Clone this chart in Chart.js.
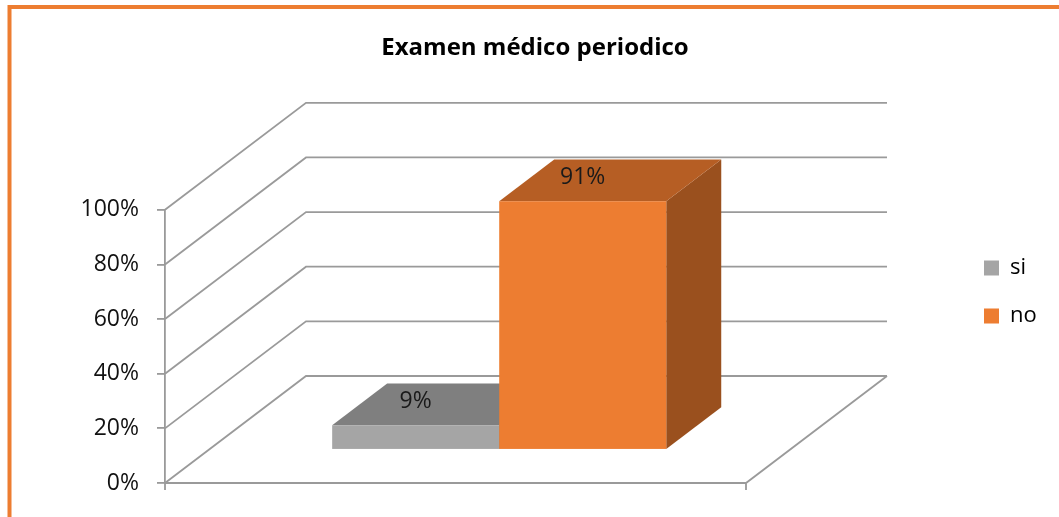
<!DOCTYPE html>
<html>
<head>
<meta charset="utf-8">
<script src="https://cdn.jsdelivr.net/npm/chart.js@4.4.1/dist/chart.umd.min.js"></script>
<style>
  html, body { margin: 0; padding: 0; background: #fff; }
</style>
</head>
<body>
<canvas id="examChart" width="1059" height="517"></canvas>
<script>
// datos del grafico
const categories = ['Examen médico periodico'];
const seriesNames = ['si', 'no'];
const seriesValues = [9, 91];
const tickValues = [0, 20, 40, 60, 80, 100];
const tickLabels = ['0%', '20%', '40%', '60%', '80%', '100%'];

// colores: frente, tapa, lado
const faceColors = ['#A5A5A5', '#ED7D31'];
const topColors = ['#7F7F7F', '#B65E24'];
const sideColors = ['#6B6B6B', '#9A501E'];

const DEPTH_X = 141, DEPTH_Y = -107; // desplazamiento de la pared del fondo
const BAR_FRONT = 0.31, BAR_BACK = 0.70; // profundidad de las barras
const LINE = '#9a9a9a';
const FONT = 'Open Sans';

function poly(ctx, pts, color) {
    ctx.beginPath();
    ctx.moveTo(pts[0][0], pts[0][1]);
    for (let k = 1; k < pts.length; k++) ctx.lineTo(pts[k][0], pts[k][1]);
    ctx.closePath();
    ctx.fillStyle = color;
    ctx.fill();
}

// dibuja paredes, piso y barras en 3D
const box3d = {
    id: 'box3d',
    afterLayout(chart) {
        const lg = chart.legend;
        lg.left = 958; lg.right = 958 + lg.width;
        lg.top = 231; lg.bottom = 231 + lg.height;
    },
    beforeDraw(chart) {
        const ctx = chart.ctx;
        ctx.save();
        ctx.fillStyle = '#fff';
        ctx.fillRect(0, 0, chart.width, chart.height);
        ctx.strokeStyle = '#ED7D31';
        ctx.lineWidth = 4;
        ctx.strokeRect(9.5, 7, chart.width + 20, chart.height + 20);
        ctx.restore();
    },
    beforeDatasetsDraw(chart) {
        const ctx = chart.ctx, ys = chart.scales.y, a = chart.chartArea;
        const L = a.left, R = a.right, y0 = ys.getPixelForValue(0);
        ctx.save();
        ctx.strokeStyle = LINE;
        ctx.lineWidth = 1.8;
        ctx.beginPath();
        tickValues.forEach(v => {
            const yy = ys.getPixelForValue(v);
            ctx.moveTo(L, yy);
            ctx.lineTo(L + DEPTH_X, yy + DEPTH_Y);
            ctx.lineTo(R + DEPTH_X, yy + DEPTH_Y);
        });
        // piso
        ctx.moveTo(L, y0); ctx.lineTo(R, y0);
        ctx.lineTo(R + DEPTH_X, y0 + DEPTH_Y);
        ctx.moveTo(R, y0); ctx.lineTo(R, y0 + 7);
        ctx.moveTo(L, y0); ctx.lineTo(L, y0 + 7);
        ctx.stroke();
        ctx.restore();
    },
    beforeDatasetDraw() {
        return false; // las barras se pintan abajo en 3D
    },
    afterDatasetsDraw(chart) {
        const ctx = chart.ctx;
        const fx = BAR_FRONT * DEPTH_X, fy = BAR_FRONT * DEPTH_Y;
        const dx = (BAR_BACK - BAR_FRONT) * DEPTH_X, dy = (BAR_BACK - BAR_FRONT) * DEPTH_Y;
        const labels = [];
        ctx.save();
        chart.data.datasets.forEach((ds, i) => {
            chart.getDatasetMeta(i).data.forEach((bar, j) => {
                const p = bar.getProps(['x', 'y', 'base', 'width'], true);
                const l = p.x - p.width / 2 + fx, r = p.x + p.width / 2 + fx;
                const t = p.y + fy, b = p.base + fy;
                poly(ctx, [[r, t], [r + dx, t + dy], [r + dx, b + dy], [r, b]], sideColors[i]);
                poly(ctx, [[l, t], [r, t], [r + dx, t + dy], [l + dx, t + dy]], topColors[i]);
                ctx.fillStyle = faceColors[i];
                ctx.fillRect(l, t, r - l, b - t);
                labels.push([(l + r) / 2, t + dy * 0.58, ds.data[j] + '%']);
            });
        });
        ctx.fillStyle = '#1a1a1a';
        ctx.font = '23px "' + FONT + '"';
        ctx.textAlign = 'center';
        ctx.textBaseline = 'middle';
        labels.forEach(lb => ctx.fillText(lb[2], lb[0], lb[1]));
        ctx.restore();
    }
};

new Chart(document.getElementById('examChart'), {
    type: 'bar',
    data: {
        labels: categories,
        datasets: seriesNames.map((name, i) => ({
            label: name,
            data: [seriesValues[i]],
            backgroundColor: faceColors[i],
            borderWidth: 0,
            barPercentage: 1,
            categoryPercentage: 0.575
        }))
    },
    options: {
        responsive: false,
        animation: false,
        layout: { padding: { left: 11, right: 0, top: 0, bottom: 34 } },
        plugins: {
            title: {
                display: true,
                text: 'Examen médico periodico',
                color: '#000',
                font: { family: FONT, size: 24, weight: 'bold' },
                padding: { top: 34, bottom: 147 }
            },
            legend: {
                position: 'chartArea',
                align: 'start',
                labels: {
                    color: '#000',
                    font: { family: FONT, size: 22 },
                    boxWidth: 15,
                    boxHeight: 15,
                    padding: 26
                }
            },
            tooltip: { enabled: false }
        },
        scales: {
            x: { display: false },
            y: {
                min: 0,
                max: 100,
                afterFit: s => { s.width = 154; },
                afterBuildTicks: s => { s.ticks = tickValues.map(v => ({ value: v })); },
                ticks: {
                    color: '#111',
                    padding: 18,
                    font: { family: FONT, size: 23 },
                    callback: v => tickLabels[tickValues.indexOf(v)]
                },
                grid: { drawOnChartArea: false, tickLength: 8, color: LINE, lineWidth: 1.8 },
                border: { color: LINE, width: 1.8 }
            },
            yR: {
                position: 'right',
                display: true,
                afterFit: s => { s.width = 313; },
                ticks: { display: false },
                grid: { display: false },
                border: { display: false }
            }
        }
    },
    plugins: [box3d]
});
</script>
</body>
</html>
